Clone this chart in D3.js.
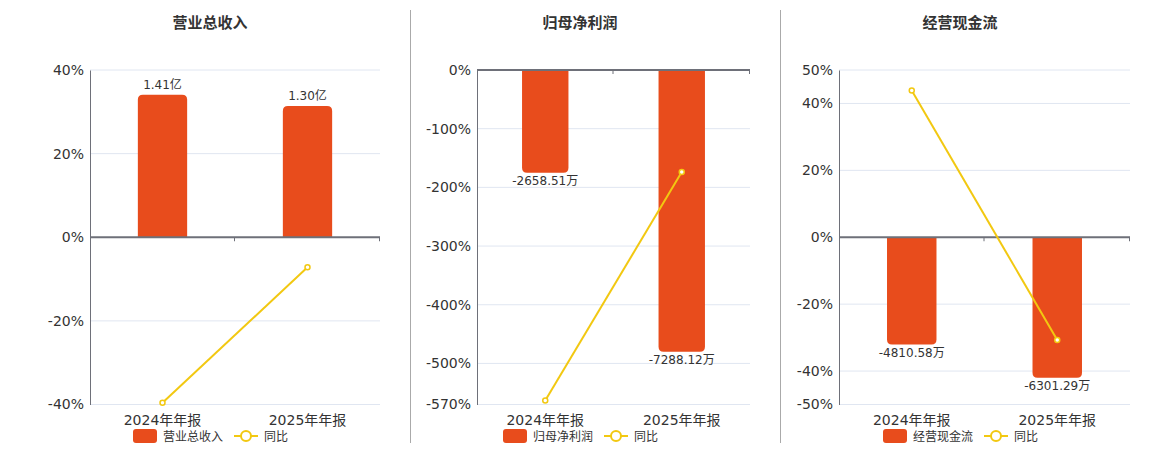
<!DOCTYPE html>
<html>
<head>
<meta charset="utf-8">
<script src="https://cdn.jsdelivr.net/npm/d3@7/dist/d3.min.js"></script>
<style>
  body { margin: 0; background: #fff; }
  svg { display: block; font-family: "DejaVu Sans", "Noto Sans CJK SC", sans-serif; }
</style>
</head>
<body>
<svg width="1160" height="450"></svg>
<script>
const categories = ["2024年年报", "2025年年报"];
const titles = ["营业总收入", "归母净利润", "经营现金流"];
const legendNames = ["营业总收入", "归母净利润", "经营现金流"];
const units = ["亿", "万", "万"];

// bar values
const revenue = [1.41, 1.30];
const netProfit = [-2658.51, -7288.12];
const cashFlow = [-4810.58, -6301.29];

// 同比 (%)
const revenueYoY = [-39.6, -7.2];
const netProfitYoY = [-563, -174];
const cashFlowYoY = [43.9, -30.7];

// y axis tick labels (%)
const revenueTicks = [40, 20, 0, -20, -40];
const netProfitTicks = [0, -100, -200, -300, -400, -500, -570];
const cashFlowTicks = [50, 40, 20, 0, -20, -40, -50];

const barColor = "#e84c1c";
const lineColor = "#f2c811";
const axisColor = "#6e7079";
const gridColor = "#e0e6f1";
const textColor = "#333";

const svg = d3.select("svg");

// panel layout
const panels = [
    {left: 90, right: 380, cx: 210, bars: revenue, yoy: revenueYoY, ticks: revenueTicks,
     pctDomain: [-40, 40], barDomain: [-1.656, 1.656]},
    {left: 477, right: 750, cx: 580, bars: netProfit, yoy: netProfitYoY, ticks: netProfitTicks,
     pctDomain: [-570, 0], barDomain: [-8650, 0]},
    {left: 839, right: 1130, cx: 960, bars: cashFlow, yoy: cashFlowYoY, ticks: cashFlowTicks,
     pctDomain: [-50, 50], barDomain: [-7500, 7500]}
];
const plotTop = 70, plotBottom = 404.5;

// separators
[410.5, 780.5].forEach(x => {
    svg.append("line")
        .attr("x1", x).attr("x2", x).attr("y1", 10).attr("y2", 443)
        .attr("stroke", "#aaa").attr("stroke-width", 1);
});

function barPath(x, w, y0, y1, r) {
    // rounded corners at the far end only
    if (y1 < y0) {
        return `M${x},${y0}V${y1 + r}Q${x},${y1} ${x + r},${y1}H${x + w - r}Q${x + w},${y1} ${x + w},${y1 + r}V${y0}Z`;
    }
    return `M${x},${y0}V${y1 - r}Q${x},${y1} ${x + r},${y1}H${x + w - r}Q${x + w},${y1} ${x + w},${y1 - r}V${y0}Z`;
}

panels.forEach((p, i) => {
    const g = svg.append("g");

    const x = d3.scaleBand().domain(categories).range([p.left, p.right]);
    const y = d3.scaleLinear().domain(p.pctDomain).range([plotBottom, plotTop]);
    const yBar = d3.scaleLinear().domain(p.barDomain).range([plotBottom, plotTop]);

    // title
    g.append("text")
        .attr("x", p.cx).attr("y", 28)
        .attr("text-anchor", "middle")
        .attr("font-size", 15).attr("font-weight", "bold")
        .attr("fill", textColor)
        .text(titles[i]);

    // grid
    g.selectAll(".grid")
        .data(p.ticks.filter(t => t !== 0))
        .enter().append("line")
        .attr("x1", p.left).attr("x2", p.right)
        .attr("y1", d => y(d)).attr("y2", d => y(d))
        .attr("stroke", gridColor);

    // y axis
    const yAxis = d3.axisLeft(y)
        .tickValues(p.ticks)
        .tickSize(0)
        .tickPadding(6)
        .tickFormat(d => d + "%");
    const ya = g.append("g")
        .attr("transform", `translate(${p.left},0)`)
        .call(yAxis);
    ya.select(".domain").attr("stroke", axisColor);
    ya.selectAll("text")
        .attr("font-size", 14)
        .attr("fill", textColor)
        .attr("font-family", "DejaVu Sans, sans-serif");

    // bars
    const bw = x.bandwidth() * 0.34;
    g.selectAll(".bar")
        .data(p.bars)
        .enter().append("path")
        .attr("d", (d, j) => barPath(x(categories[j]) + (x.bandwidth() - bw) / 2, bw, yBar(0), yBar(d), 5))
        .attr("fill", barColor);

    // bar labels
    g.selectAll(".blabel")
        .data(p.bars)
        .enter().append("text")
        .attr("x", (d, j) => x(categories[j]) + x.bandwidth() / 2)
        .attr("y", d => d >= 0 ? yBar(d) - 6 : yBar(d) + 12)
        .attr("text-anchor", "middle")
        .attr("font-size", 12)
        .attr("fill", textColor)
        .text(d => d.toFixed(2) + units[i]);

    // zero axis
    const zy = y(0);
    g.append("line")
        .attr("x1", p.left).attr("x2", p.right)
        .attr("y1", zy).attr("y2", zy)
        .attr("stroke", axisColor).attr("stroke-width", 2);
    const bounds = categories.map(c => x(c) + x.bandwidth());
    g.selectAll(".xtick")
        .data(bounds)
        .enter().append("line")
        .attr("x1", d => d - 0.5).attr("x2", d => d - 0.5)
        .attr("y1", zy).attr("y2", zy + 4)
        .attr("stroke", axisColor);

    // x labels
    g.selectAll(".xlabel")
        .data(categories)
        .enter().append("text")
        .attr("x", d => x(d) + x.bandwidth() / 2)
        .attr("y", 425)
        .attr("text-anchor", "middle")
        .attr("font-size", 14)
        .attr("fill", textColor)
        .text(d => d);

    // yoy line
    const line = d3.line()
        .x((d, j) => x(categories[j]) + x.bandwidth() / 2)
        .y(d => y(d));
    g.append("path")
        .datum(p.yoy)
        .attr("d", line)
        .attr("fill", "none")
        .attr("stroke", lineColor)
        .attr("stroke-width", 2);
    g.selectAll(".pt")
        .data(p.yoy)
        .enter().append("circle")
        .attr("cx", (d, j) => x(categories[j]) + x.bandwidth() / 2)
        .attr("cy", d => y(d))
        .attr("r", 2.5)
        .attr("fill", "#fff")
        .attr("stroke", lineColor)
        .attr("stroke-width", 1.5);

    // legend
    const lx = p.cx - 77, ly = 436;
    g.append("rect")
        .attr("x", lx).attr("y", ly - 7)
        .attr("width", 24).attr("height", 14)
        .attr("rx", 3)
        .attr("fill", barColor);
    g.append("text")
        .attr("x", lx + 30).attr("y", ly + 4.5)
        .attr("font-size", 12).attr("fill", textColor)
        .text(legendNames[i]);
    g.append("line")
        .attr("x1", lx + 101).attr("x2", lx + 125)
        .attr("y1", ly).attr("y2", ly)
        .attr("stroke", lineColor).attr("stroke-width", 2);
    g.append("circle")
        .attr("cx", lx + 113).attr("cy", ly).attr("r", 5)
        .attr("fill", "#fff")
        .attr("stroke", lineColor).attr("stroke-width", 2);
    g.append("text")
        .attr("x", lx + 131).attr("y", ly + 4.5)
        .attr("font-size", 12).attr("fill", textColor)
        .text("同比");
});
</script>
</body>
</html>
